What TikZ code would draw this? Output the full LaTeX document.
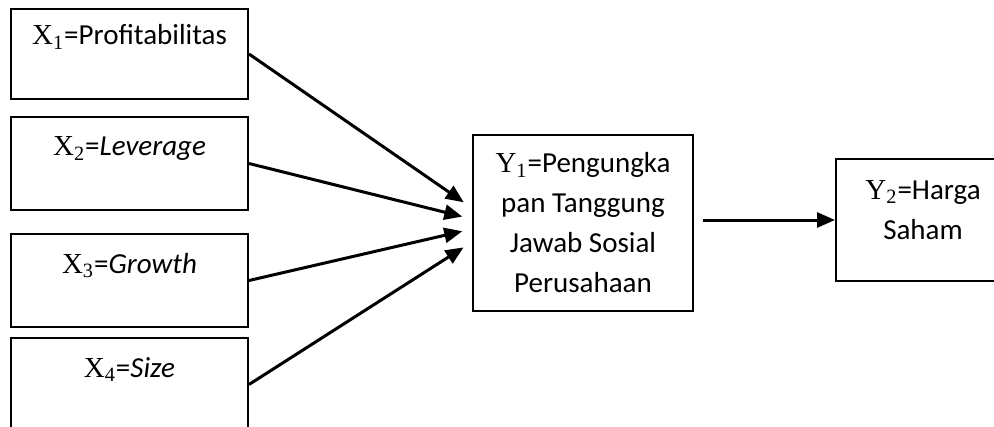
\documentclass[tikz,border=0pt]{standalone}
\usepackage{fontspec}
\setmainfont{Carlito}
\newfontfamily\timesfont{Liberation Serif}
\usetikzlibrary{arrows.meta,positioning}

\newcommand{\varname}[2]{{\timesfont #1\textsubscript{#2}}}

\begin{document}
\begin{tikzpicture}
        [x=0.5pt,y=-0.5pt,font=\fontsize{14.5}{20}\selectfont,
         every node/.style={draw,line width=1pt,inner sep=0pt},
         xbox/.style={minimum width=118.5pt,text height=19.5pt,text depth=27pt},
         ybox/.style={align=center,minimum height=88pt,minimum width=110pt},
         flow/.style={line width=1.5pt,-{Triangle[length=9pt,width=7.5pt]}}]
        \clip (0,0) rectangle (994,427);
        \node[xbox,text height=18pt,text depth=27pt] (x1) at (129.5, 54) {\varname{X}{1}=Profitabilitas};
        \node[xbox] (x2) at (129.5, 163.5) {\varname{X}{2}=\textit{Leverage}};
        \node[xbox] (x3) at (129.5, 280.5) {\varname{X}{3}=\textit{Growth}};
        \node[xbox] (x4) at (129.5, 384.5) {\varname{X}{4}=\textit{Size}};
        \node[ybox] (y1) at (583, 223) {\varname{Y}{1}=Pengungka\\pan Tanggung\\Jawab Sosial\\Perusahaan};
        \node[ybox,minimum height=61pt,minimum width=87pt] (y2) at (923, 220) {\varname{Y}{2}=Harga\\Saham\\[-10pt]\mbox{}};

        \foreach \from/\dy in {x1/7.5, x2/2, x3/-3, x4/-9.5}
            \draw[flow, shorten >=5pt] (\from.east) -- ([yshift=\dy pt]y1.west);
        \draw[flow, shorten <=4.5pt] (y1.east |- y2.west) -- (y2.west);

      \end{tikzpicture}
\end{document}
